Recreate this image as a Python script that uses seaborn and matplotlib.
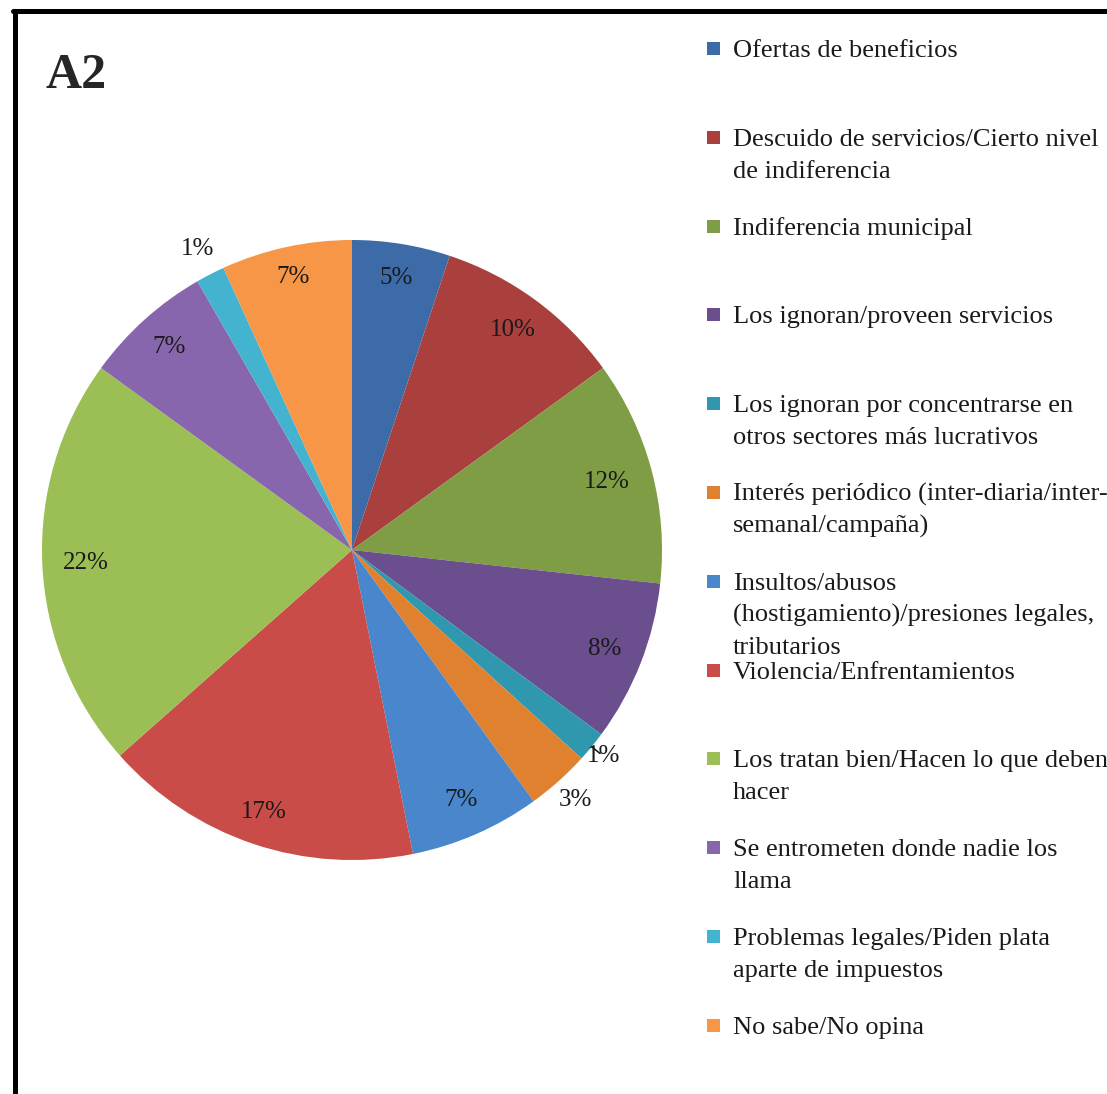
import numpy as np
import seaborn as sns
import matplotlib.pyplot as plt
from matplotlib.lines import Line2D
from matplotlib.patches import Rectangle

# Datos del gráfico A2
categorias = [
    'Ofertas de beneficios',
    'Descuido de servicios/Cierto nivel\nde indiferencia',
    'Indiferencia municipal',
    'Los ignoran/proveen servicios',
    'Los ignoran por concentrarse en\notros sectores más lucrativos',
    'Interés periódico (inter-diaria/inter-\nsemanal/campaña)',
    'Insultos/abusos\n(hostigamiento)/presiones legales,\ntributarios',
    'Violencia/Enfrentamientos',
    'Los tratan bien/Hacen lo que deben\nhacer',
    'Se entrometen donde nadie los\nllama',
    'Problemas legales/Piden plata\naparte de impuestos',
    'No sabe/No opina',
]
valores = [5.1, 9.9, 11.7, 8.4, 1.6, 3.3, 6.8, 16.6, 21.5, 6.7, 1.5, 6.8]
# etiquetas tal como aparecen en el gráfico
etiquetas = ['5%', '10%', '12%', '8%', '1%', '3%', '7%', '17%', '22%', '7%', '1%', '7%']

colores = ['#3C6BA8', '#A9403D', '#7F9D44', '#6A4E8E', '#2F98AE', '#E0812F',
           '#4A86CC', '#C94C48', '#9BBF55', '#8866AE', '#43B3D0', '#F79646']
# distancia radial de cada etiqueta (fraccion del radio)
dist_etiquetas = [0.89, 0.88, 0.85, 0.875, 1.05, 1.08, 0.88, 0.89, 0.86, 0.88, 1.09, 0.9]

sns.set_theme(style='white')
plt.rcParams['font.family'] = ['Liberation Serif', 'DejaVu Serif']

W, H = 1107, 1094
fig = plt.figure(figsize=(W / 100, H / 100), dpi=100)
fig.patch.set_facecolor('white')

# Pastel
ax = fig.add_axes([42 / W, (H - 860) / H, 620 / W, 620 / H])
wedges, _ = ax.pie(valores, colors=colores, startangle=90, counterclock=False,
                   radius=1, wedgeprops=dict(linewidth=0))
ax.set_xlim(-1, 1)
ax.set_ylim(-1, 1)
ax.set_aspect('equal')
ax.axis('off')

for w, txt, d in zip(wedges, etiquetas, dist_etiquetas):
    ang = np.deg2rad((w.theta1 + w.theta2) / 2)
    ax.text(d * np.cos(ang), d * np.sin(ang), txt, ha='center', va='center',
            fontsize=18, color='#1a1a1a', clip_on=False)

# pequeña línea guía para la etiqueta exterior del 1%
w = wedges[4]
ang = np.deg2rad((w.theta1 + w.theta2) / 2)
ax.plot([1.0 * np.cos(ang), 1.035 * np.cos(ang)], [1.0 * np.sin(ang), 1.035 * np.sin(ang)],
        color='black', lw=1, clip_on=False)

# Leyenda manual (espaciado uniforme como en Excel)
paso = 88.8
interlinea = 32
for i, (cat, col) in enumerate(zip(categorias, colores)):
    yc = 48 + i * paso
    fig.add_artist(Rectangle((707 / W, 1 - (yc + 7) / H), 13 / W, 13 / H,
                             transform=fig.transFigure, facecolor=col, edgecolor='none'))
    for j, linea in enumerate(cat.split('\n')):
        fig.text(733 / W, 1 - (yc + 9 + j * interlinea) / H, linea, ha='left',
                 va='baseline', fontsize=19, color='#1a1a1a')

# Título del panel
fig.text(45 / W, 1 - 88 / H, 'A2', fontsize=36, fontweight='bold', ha='left', va='baseline')

# Marco (solo izquierda y arriba visibles)
fig.add_artist(Line2D([15 / W, 15 / W], [0, 1 - 11 / H], transform=fig.transFigure,
                      color='black', lw=3.6))
fig.add_artist(Line2D([13 / W, 1], [1 - 11 / H, 1 - 11 / H], transform=fig.transFigure,
                      color='black', lw=3.6))

plt.savefig('out.png', dpi=100)
plt.close()
